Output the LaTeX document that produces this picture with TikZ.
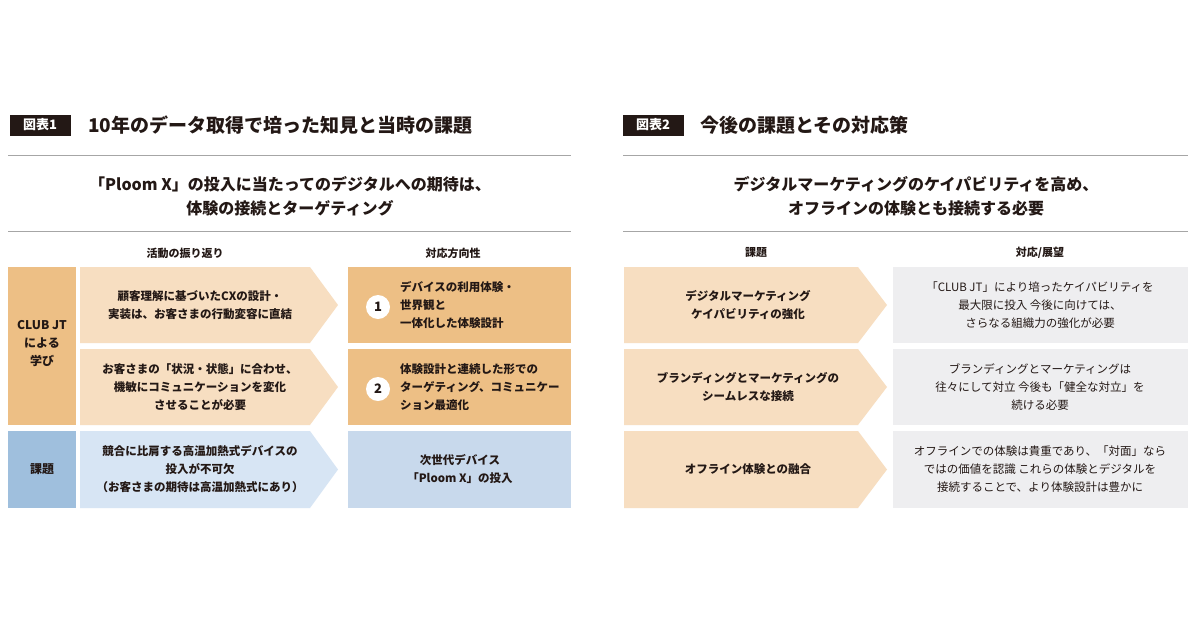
\documentclass[tikz,border=0pt]{standalone}
\usepackage{fontspec}
\setmainfont{Noto Sans CJK JP}
\newfontfamily\jpb{Noto Sans CJK JP Bold}
\begin{document}
\begin{tikzpicture}[x=1pt,y=-1pt,
  every node/.style={text=txt,align=center,inner sep=0pt},
  lbl/.style={font=\fontsize{12}{18}\selectfont\bfseries},
  bt/.style={font=\fontsize{11.5}{18}\selectfont\bfseries},
  rt/.style={font=\fontsize{11.5}{18}\selectfont},
  hd/.style={font=\fontsize{11}{14}\selectfont\bfseries},
  sub/.style={font=\fontsize{16}{24}\selectfont\bfseries},
  ttl/.style={font=\fontsize{19}{22}\selectfont\bfseries},
  tag/.style={fill=txt,text=white,font=\fontsize{13}{16}\selectfont\bfseries,minimum width=61pt,minimum height=21pt},
  rule/.style={draw=gray!70,line width=0.9pt}]
\definecolor{txt}{HTML}{231815}
\definecolor{org}{HTML}{EDBF85}
\definecolor{lorg}{HTML}{F7DEC1}
\definecolor{blu}{HTML}{9FBFDD}
\definecolor{lblu}{HTML}{D7E5F4}
\definecolor{mblu}{HTML}{C8D9EC}
\definecolor{gry}{HTML}{EEEEF0}
\fill[white] (0,0) rectangle (1200,630);
\useasboundingbox (0,0) rectangle (1200,630);
% ---------- left panel ----------
\node[tag] (t1) at (40,125) {図表1};
\node[ttl,anchor=west] (h1) at (88,125) {10年のデータ取得で培った知見と当時の課題};
\draw[rule] (8,155) -- (571,155);
\draw[rule] (8,231) -- (571,231);
\node[sub] (s1) at (290,196) {「Ploom X」の投入に当たってのデジタルへの期待は、\\体験の接続とターゲティング};
\node[hd] (c1) at (185,253) {活動の振り返り};
\node[hd] (c2) at (453,253) {対応方向性};
\fill[org] (8,267) rectangle (76,425);
\node[lbl] (club) at (42,344) {CLUB JT\\による\\学び};
\fill[blu] (8,431) rectangle (76,508);
\node[lbl] (kd) at (42,469) {課題};
\foreach \ya/\yb/\c in {267/343/lorg,349/425/lorg,431/508/lblu}
  \fill[\c] (80,\ya) -- (310,\ya) -- (338,{(\ya+\yb)/2}) -- (310,\yb) -- (80,\yb) -- cycle;
\node[bt] (a1) at (200,305) {顧客理解に基づいたCXの設計・\\実装は、お客さまの行動変容に直結};
\node[bt] (a2) at (200,387) {お客さまの「状況・状態」に合わせ、\\機敏にコミュニケーションを変化\\させることが必要};
\node[bt] (a3) at (200,469) {競合に比肩する高温加熱式デバイスの\\投入が不可欠\\（お客さまの期待は高温加熱式にあり）};
\fill[org] (348,267) rectangle (571,343);
\fill[org] (348,349) rectangle (571,425);
\fill[mblu] (348,431) rectangle (571,508);
\node[circle,fill=white,minimum size=24pt,font=\fontsize{13}{14}\selectfont\bfseries] (n1) at (378,307) {1};
\node[circle,fill=white,minimum size=24pt,font=\fontsize{13}{14}\selectfont\bfseries] (n2) at (378,389) {2};
\node[bt,anchor=west,align=left] (b1) at (400,305) {デバイスの利用体験・\\世界観と\\一体化した体験設計};
\node[bt,anchor=west,align=left] (b2) at (400,387) {体験設計と連続した形での\\ターゲティング、コミュニケー\\ション最適化};
\node[bt] (b3) at (460,469) {次世代デバイス\\「Ploom X」の投入};
% ---------- right panel ----------
\node[tag] (t2) at (653,125) {図表2};
\node[ttl,anchor=west] (h2) at (700,125) {今後の課題とその対応策};
\draw[rule] (623,155) -- (1188,155);
\draw[rule] (623,231) -- (1188,231);
\node[sub] (s2) at (916,196) {デジタルマーケティングのケイパビリティを高め、\\オフラインの体験とも接続する必要};
\node[hd] (c3) at (756,253) {課題};
\node[hd] (c4) at (1040,253) {対応/展望};
\foreach \ya/\yb in {267/343,349/425,431/508}{
  \fill[lorg] (624,\ya) -- (858,\ya) -- (887,{(\ya+\yb)/2}) -- (858,\yb) -- (624,\yb) -- cycle;
  \fill[gry] (893,\ya) rectangle (1188,\yb);}
\node[bt] (d1) at (748,305) {デジタルマーケティング\\ケイパビリティの強化};
\node[bt] (d2) at (748,387) {ブランディングとマーケティングの\\シームレスな接続};
\node[bt] (d3) at (748,469) {オフライン体験との融合};
\node[rt] (e1) at (1040,305) {「CLUB JT」により培ったケイパビリティを\\最大限に投入 今後に向けては、\\さらなる組織力の強化が必要};
\node[rt] (e2) at (1040,387) {ブランディングとマーケティングは\\往々にして対立 今後も「健全な対立」を\\続ける必要};
\node[rt] (e3) at (1040,469) {オフラインでの体験は貴重であり、「対面」なら\\ではの価値を認識 これらの体験とデジタルを\\接続することで、より体験設計は豊かに};
\end{tikzpicture}
\end{document}
